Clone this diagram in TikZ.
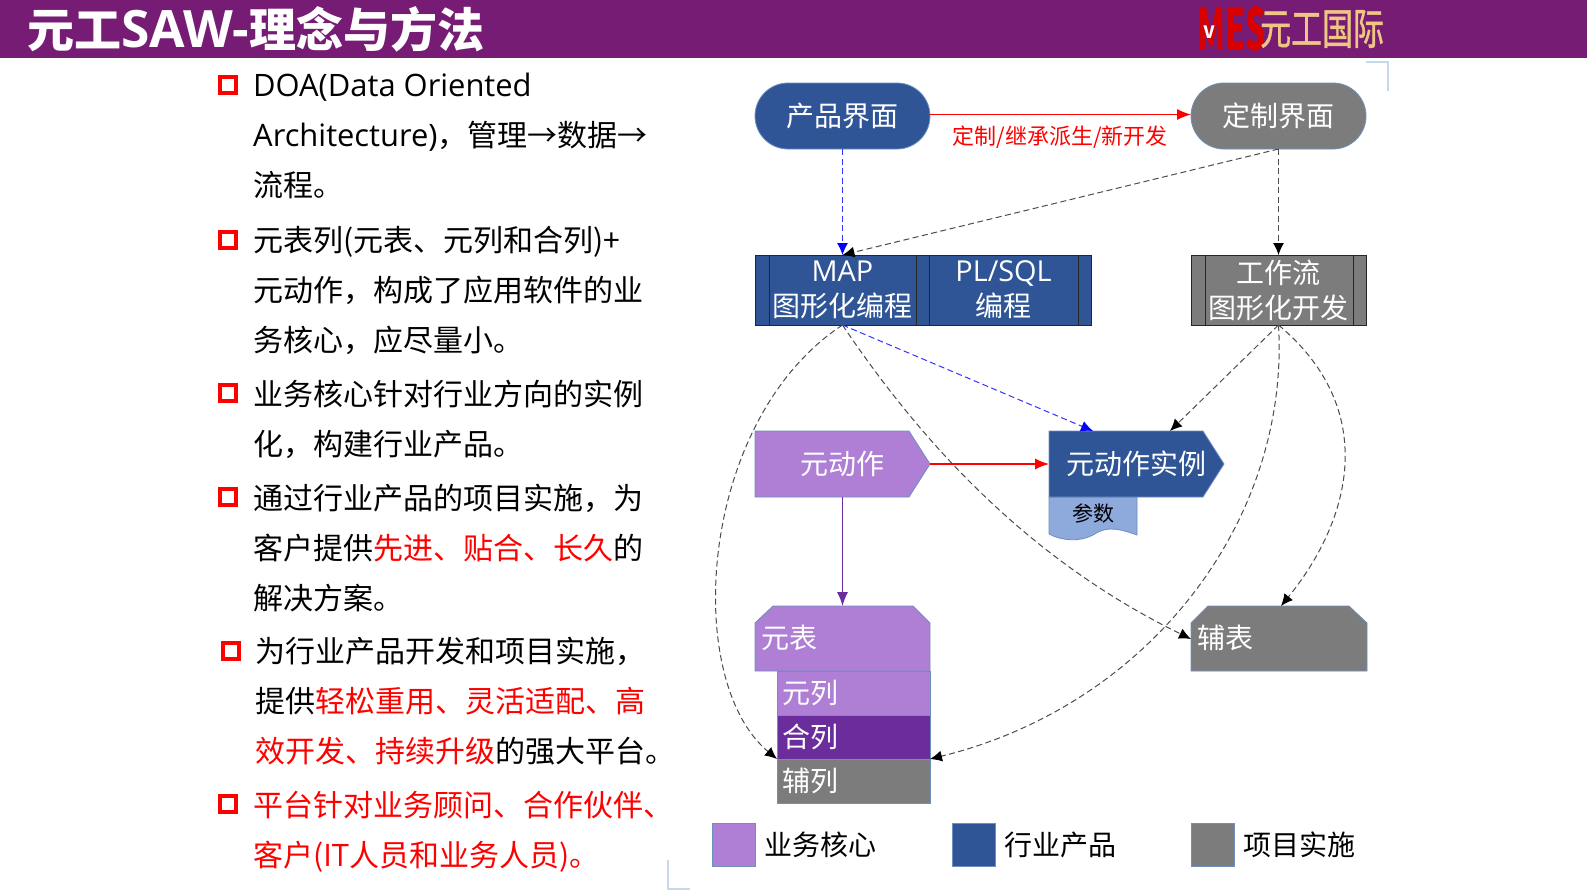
\documentclass[tikz,border=0pt]{standalone}
\usepackage{fontspec}
\setmainfont{Noto Sans CJK SC}
\newfontfamily\latfont[Scale=1.03]{Open Sans}
\newfontfamily\logofont[FakeBold=1.2]{Noto Sans CJK SC}
\usetikzlibrary{arrows.meta,shapes.symbols}
\definecolor{headpurple}{HTML}{761C75}
\definecolor{corepurple}{HTML}{AF7FD6}
\definecolor{darkpurple}{HTML}{6B2D9B}
\definecolor{prodblue}{HTML}{2F5597}
\definecolor{implgray}{HTML}{7C7C7C}
\definecolor{paramblue}{HTML}{8EA9DB}
\definecolor{edgeblue}{HTML}{6F8FBF}
\definecolor{logotan}{HTML}{EEC583}
\definecolor{cornerblue}{HTML}{C5D9EE}
\newcommand{\fs}[1]{\fontsize{#1}{#1}\selectfont}
\newcommand{\lat}[1]{{\latfont #1}}
\newcommand{\signtext}[1]{\hspace*{21pt}\makebox[100pt]{#1}}
\tikzset{
  box/.style={anchor=north west,outer sep=0,inner sep=0,minimum width=175pt,minimum height=66pt,
    draw=edgeblue,line width=0.8pt,text=white,font=\fs{28}},
  endbox/.style={box,rounded corners=33pt},
  procbox/.style={box,draw=black!85,line width=1pt,minimum height=70pt,align=center,font=\fontsize{28}{35}\selectfont},
  tablebox/.style={box,draw=none,align=left,text width=163pt},
  tableshape/.style={draw=edgeblue,line width=0.8pt},
  colbox/.style={box,minimum width=153pt,minimum height=44pt,align=left,text width=143pt},
  signbox/.style={box,signal,signal to=east,signal pointer angle=115},
  legendbox/.style={anchor=north west,outer sep=0,inner sep=0,minimum size=43pt,draw=edgeblue,line width=0.8pt},
  legendtext/.style={anchor=west,inner sep=0,font=\fs{28}},
  bulletbox/.style={draw=red,line width=3.8pt,minimum size=16pt,inner sep=0},
  para/.style={anchor=north west,inner sep=0,align=left,font=\fontsize{30}{50}\selectfont},
  flowred/.style={draw=red,line width=1.2pt,-{Latex[length=14pt,width=11pt]}},
  flowpurple/.style={draw=darkpurple,line width=1.2pt,-{Latex[length=14pt,width=11pt]}},
  dashblue/.style={draw=blue!80,line width=1pt,dash pattern=on 6pt off 3.5pt,-{Latex[length=12pt,width=11pt,blue]}},
  dashgray/.style={draw=black!70,line width=1pt,dash pattern=on 6pt off 3.5pt,-{Latex[length=12pt,width=11pt,black]}}
}
\begin{document}
\begin{tikzpicture}[x=1pt,y=-1pt]
\useasboundingbox (0,0) rectangle (1587,892);
\fill[white] (0,0) rectangle (1587,892);
% header
\fill[headpurple] (0,0) rectangle (1587,58);
\node[anchor=west,inner sep=0,text=white,font=\fs{47}\bfseries] (title) at (27,29) {元工{\fontsize{50}{50}\selectfont\lat{SAW-}}理念与方法};
\node[anchor=west,inner sep=0,text=red!85!black,font=\fs{58}\bfseries,xscale=0.55] (logomes) at (1197,29) {MES};
\node[inner sep=0,text=white,font=\fs{17}\bfseries] (logov) at (1209,32) {V};
\node[anchor=west,inner sep=0,text=logotan,font=\fs{43}\logofont,xscale=0.72] (logocn) at (1260,29) {元工国际};
% corner marks
\draw[cornerblue,line width=1.2pt] (1366,62)--(1388,62)--(1388,91);
\draw[cornerblue,line width=1.2pt] (668,860)--(668,889)--(690,889);
% left text
\foreach \y in {85,240,393,497,804}
  \node[bulletbox] (bul\y) at (228,\y) {};
\node[bulletbox] (bulfive) at (231,651) {};
\node[para] (parone) at (253,72.5) {\lat{DOA(Data Oriented}\\\lat{Architecture)}，管理→数据→\\流程。};
\node[para] (partwo) at (253,226) {元表列(元表、元列和合列)+\\元动作，构成了应用软件的业\\务核心，应尽量小。};
\node[para] (parthree) at (253,380) {业务核心针对行业方向的实例\\化，构建行业产品。};
\node[para] (parfour) at (253,484) {通过行业产品的项目实施，为\\客户提供\textcolor{red}{先进、贴合、长久}的\\解决方案。};
\node[para] (parfive) at (255,637) {为行业产品开发和项目实施，\\提供\textcolor{red}{轻松重用、灵活适配、高}\\\textcolor{red}{效开发、持续升级}的强大平台。};
\node[para,text=red] (parsix) at (253,791) {平台针对业务顾问、合作伙伴、\\客户(\lat{IT}人员和业务人员)。};
% top row
\node[endbox,fill=prodblue] (produi) at (755,83) {\raisebox{3pt}{产品界面}};
\node[endbox,fill=implgray] (custui) at (1191,83) {\raisebox{3pt}{定制界面}};
% process boxes
\node[procbox,fill=prodblue] (mapbox) at (755,255) {\lat{MAP}\\图形化编程};
\node[procbox,fill=prodblue,minimum width=149pt] (sqlbox) at (929,255) {\lat{PL/SQL}\\编程};
\node[procbox,fill=prodblue,minimum width=13pt] (sqlend) at (1078,255) {};
\node[procbox,fill=implgray] (flowbox) at (1191,255) {工作流\\图形化开发};
\foreach \x in {769,916,1205,1353}
  \draw[black!85,line width=1pt] (\x,255)--(\x,325);
% actions
\node[signbox,fill=corepurple] (action) at (755,431) {\signtext{元动作}};
\fill[paramblue,draw=edgeblue,line width=0.8pt] (1049,497)--(1137,497)--(1137,535)
  .. controls (1115,527) and (1105,527) .. (1093,535)
  .. controls (1080,542) and (1062,541) .. (1049,534)--cycle;
\node[signbox,fill=prodblue] (inst) at (1049,431) {\signtext{元动作实例}};
\node[inner sep=0,font=\fs{21}] (param) at (1093,513) {参数};
\coordinate (instmap) at (1093,431);
\coordinate (instflow) at (1170,431);
% tables
\filldraw[tableshape,fill=corepurple] (773,606)--(913,606)--(930,623)--(930,671)--(755,671)--(755,623)--cycle;
\node[tablebox] (metatab) at (755,606) {\raisebox{4pt}{元表}};
\filldraw[tableshape,fill=implgray] (1208,606)--(1349,606)--(1367,623)--(1367,671)--(1191,671)--(1191,623)--cycle;
\node[tablebox,minimum width=176pt] (auxtab) at (1191,606) {\raisebox{4pt}{辅表}};
\node[colbox,fill=corepurple] (metacol) at (777,671) {元列};
\node[colbox,fill=darkpurple] (sumcol) at (777,715) {合列};
\node[colbox,fill=implgray] (auxcol) at (777,759) {辅列};
\coordinate (auxtop) at (1281,606);
% legend
\node[legendbox,fill=corepurple] (legcore) at (712,823) {};
\node[legendtext,right=9pt] (legcoret) at (legcore.east) {业务核心};
\node[legendbox,fill=prodblue] (legprod) at (952,823) {};
\node[legendtext,right=9pt] (legprodt) at (legprod.east) {行业产品};
\node[legendbox,fill=implgray] (legimpl) at (1191,823) {};
\node[legendtext,right=9pt] (legimplt) at (legimpl.east) {项目实施};
% connectors
\draw[flowred] ([yshift=1.5pt]produi.east) -- ([yshift=1.5pt]custui.west);
\node[inner sep=0,text=red,font=\fs{22}] (derive) at (1060,137) {定制/继承派生/新开发};
\draw[dashblue] (produi.south) -- (mapbox.north);
\draw[dashgray] (custui.south) -- (mapbox.north);
\draw[dashgray] (custui.south) -- (flowbox.north);
\draw[dashblue] (mapbox.south) -- (instmap);
\draw[dashgray] (mapbox.south) .. controls (698,420) and (682,680) .. (auxcol.north west);
\draw[dashgray] (mapbox.south) .. controls (940,470) and (1050,570) .. (auxtab.west);
\draw[dashgray] (flowbox.south) -- (instflow);
\draw[dashgray] (flowbox.south) .. controls (1380,410) and (1351,520) .. (auxtop);
\draw[dashgray] (flowbox.south) .. controls (1290,520) and (1150,705) .. (auxcol.north east);
\draw[flowred] (action.east) -- (inst.west);
\draw[flowpurple] (action.south -| metatab.north) -- (metatab.north);
\end{tikzpicture}
\end{document}
